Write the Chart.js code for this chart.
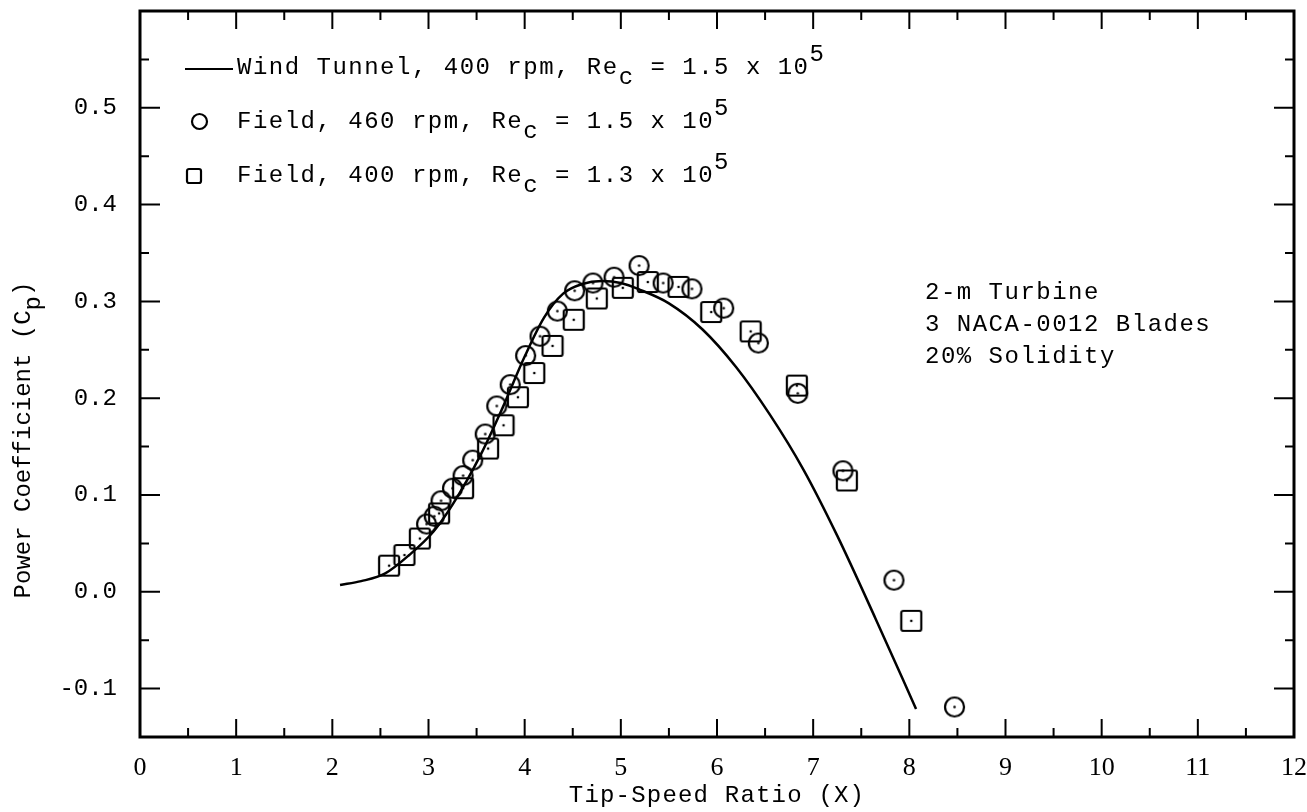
<!DOCTYPE html>
<html>
<head>
<meta charset="utf-8">
<script src="https://cdn.jsdelivr.net/npm/chart.js@4/dist/chart.umd.min.js"></script>
<style>
body { margin: 0; background: #fff; }
#wrap { width: 1307px; height: 812px; }
</style>
</head>
<body>
<div id="wrap"><canvas id="myChart"></canvas></div>
<script>
// wind tunnel curve, 400 rpm
const tunnelX = [2.08, 2.3, 2.55, 2.8, 3.05, 3.25, 3.55, 3.77, 4.0, 4.2, 4.4, 4.6, 4.8, 5.0, 5.2, 5.5, 5.85, 6.2, 6.55, 6.9, 7.25, 7.65, 8.07];
const tunnelCp = [0.007, 0.011, 0.019, 0.038, 0.062, 0.09, 0.143, 0.19, 0.243, 0.283, 0.308, 0.318, 0.321, 0.319, 0.312, 0.298, 0.271, 0.232, 0.183, 0.126, 0.058, -0.028, -0.121];

// field test, 460 rpm (circles)
const field460X = [2.98, 3.06, 3.13, 3.25, 3.36, 3.46, 3.59, 3.71, 3.85, 4.01, 4.16, 4.34, 4.52, 4.71, 4.93, 5.19, 5.44, 5.74, 6.07, 6.43, 6.84, 7.31, 7.84, 8.47];
const field460Cp = [0.070, 0.078, 0.094, 0.107, 0.120, 0.136, 0.163, 0.192, 0.214, 0.244, 0.264, 0.290, 0.311, 0.319, 0.325, 0.337, 0.319, 0.313, 0.293, 0.257, 0.205, 0.125, 0.012, -0.119];

// field test, 400 rpm (squares)
const field400X = [2.59, 2.75, 2.91, 3.11, 3.36, 3.62, 3.78, 3.93, 4.10, 4.29, 4.51, 4.75, 5.02, 5.28, 5.60, 5.94, 6.35, 6.83, 7.35, 8.02];
const field400Cp = [0.027, 0.038, 0.055, 0.081, 0.107, 0.148, 0.172, 0.201, 0.226, 0.254, 0.281, 0.303, 0.314, 0.320, 0.315, 0.289, 0.269, 0.213, 0.115, -0.030];

const xTickValues = [0, 1, 2, 3, 4, 5, 6, 7, 8, 9, 10, 11, 12];
const xTickLabels = ['0', '1', '2', '3', '4', '5', '6', '7', '8', '9', '10', '11', '12'];
const yTickValues = [-0.1, 0.0, 0.1, 0.2, 0.3, 0.4, 0.5];
const yTickLabels = ['-0.1', '0.0', '0.1', '0.2', '0.3', '0.4', '0.5'];

const legendRows = [
    [['Wind Tunnel, 400 rpm, Re'], ['c', 'sub'], [' = 1.5 x 10'], ['5', 'sup']],
    [['Field, 460 rpm, Re'], ['c', 'sub'], [' = 1.5 x 10'], ['5', 'sup']],
    [['Field, 400 rpm, Re'], ['c', 'sub'], [' = 1.3 x 10'], ['5', 'sup']]
];
const noteLines = ['2-m Turbine', '3 NACA-0012 Blades', '20% Solidity'];
const xTitle = [['Tip-Speed Ratio (X)']];
const yTitle = [['Power Coefficient (C'], ['p', 'sub'], [')']];

const MONO = '"Liberation Mono", monospace';
const SERIF = '"Liberation Serif", serif';

function toPoints(xs, ys) {
    return xs.map((x, i) => ({ x: x, y: ys[i] }));
}

function markImg(kind, size, dot) {
    const c = document.createElement('canvas');
    c.width = c.height = size;
    const g = c.getContext('2d');
    const m = size / 2;
    g.strokeStyle = '#000';
    g.lineWidth = 2.2;
    g.beginPath();
    if (kind === 'circle') g.arc(m, m, m - 2, 0, Math.PI * 2);
    else g.roundRect(2, 2, size - 4, size - 4, 2);
    g.stroke();
    if (dot) {
        g.fillStyle = '#000';
        g.beginPath();
        g.arc(m, m, 1.3, 0, Math.PI * 2);
        g.fill();
    }
    return c;
}

function rich(ctx, x, y, parts) {
    for (const p of parts) {
        const dy = p[1] === 'sub' ? 10 : p[1] === 'sup' ? -13 : 0;
        ctx.fillText(p[0], x, y + dy);
        x += ctx.measureText(p[0]).width;
    }
}
function richWidth(ctx, parts) {
    return parts.reduce((w, p) => w + ctx.measureText(p[0]).width, 0);
}

const paper = {
    id: 'paper',
    afterDraw(chart) {
        const ctx = chart.ctx, a = chart.chartArea;
        const xs = chart.scales.x, ys = chart.scales.y;
        ctx.save();
        ctx.strokeStyle = '#000';
        ctx.fillStyle = '#000';
        ctx.lineWidth = 2;
        ctx.beginPath();
        for (let i = 0; i <= 24; i++) {
            const px = xs.getPixelForValue(i / 2), len = i % 2 ? 9 : 18;
            ctx.moveTo(px, a.bottom); ctx.lineTo(px, a.bottom - len);
            ctx.moveTo(px, a.top); ctx.lineTo(px, a.top + len);
        }
        for (let i = -3; i <= 12; i++) {
            const py = ys.getPixelForValue(i * 0.05), len = i % 2 ? 9 : 20;
            ctx.moveTo(a.left, py); ctx.lineTo(a.left + len, py);
            ctx.moveTo(a.right, py); ctx.lineTo(a.right - len, py);
        }
        ctx.stroke();
        ctx.lineWidth = 3;
        ctx.strokeRect(a.left, a.top, a.right - a.left, a.bottom - a.top);

        // legend
        ctx.font = '24px ' + MONO;
        ctx.letterSpacing = '1.5px';
        ctx.textBaseline = 'middle';
        ctx.textAlign = 'left';
        const rowY = [68, 122, 176];
        ctx.lineWidth = 2;
        ctx.beginPath();
        ctx.moveTo(185, rowY[0] + 1); ctx.lineTo(233, rowY[0] + 1);
        ctx.stroke();
        ctx.drawImage(markImg('circle', 19, false), 190, rowY[1] - 10);
        ctx.drawImage(markImg('square', 18, false), 185, rowY[2] - 9);
        legendRows.forEach((r, i) => rich(ctx, 237, rowY[i], r));

        noteLines.forEach((t, i) => ctx.fillText(t, 925, 293 + i * 32));

        // axis titles
        ctx.letterSpacing = '1.2px';
        const tw = richWidth(ctx, xTitle);
        rich(ctx, (a.left + a.right) / 2 - tw / 2, 796, xTitle);
        ctx.translate(24, 440);
        ctx.rotate(-Math.PI / 2);
        ctx.letterSpacing = '0px';
        const yw = richWidth(ctx, yTitle);
        rich(ctx, -yw / 2, 0, yTitle);
        ctx.restore();
    }
};

window.onload = function () {
    let myChart = document.getElementById('myChart').getContext('2d');
    new Chart(myChart, {
        type: 'line',
        data: {
            datasets: [
                { label: 'Wind Tunnel', data: toPoints(tunnelX, tunnelCp), borderColor: '#000', borderWidth: 2.5, pointRadius: 0, cubicInterpolationMode: 'monotone', fill: false },
                { label: 'Field 460', data: toPoints(field460X, field460Cp), showLine: false, pointStyle: markImg('circle', 23, true), pointRadius: 10 },
                { label: 'Field 400', data: toPoints(field400X, field400Cp), showLine: false, pointStyle: markImg('square', 24, true), pointRadius: 10 }
            ]
        },
        options: {
            responsive: true, maintainAspectRatio: false, animation: false,
            layout: { padding: { top: 11, right: 13, left: 0, bottom: 0 } },
            plugins: { legend: { display: false }, tooltip: { enabled: false } },
            scales: {
                x: {
                    type: 'linear', min: 0, max: 12,
                    grid: { display: false }, border: { display: false },
                    ticks: {
                        stepSize: 1, autoSkip: false, maxRotation: 0, padding: 8, color: '#000',
                        font: { family: SERIF, size: 26 },
                        callback: v => { const k = xTickValues.findIndex(t => Math.abs(t - v) < 1e-6); return k < 0 ? '' : xTickLabels[k]; }
                    },
                    afterFit: s => { s.height = 75; s.paddingLeft = 0; s.paddingRight = 0; }
                },
                y: {
                    type: 'linear', min: -0.15, max: 0.6,
                    grid: { display: false }, border: { display: false },
                    ticks: {
                        stepSize: 0.05, autoSkip: false, padding: 15, color: '#000',
                        font: { family: MONO, size: 24 },
                        callback: v => { const k = yTickValues.findIndex(t => Math.abs(t - v) < 1e-6); return k < 0 ? '' : yTickLabels[k]; }
                    },
                    afterFit: s => { s.width = 140; s.paddingTop = 0; s.paddingBottom = 0; }
                }
            }
        },
        plugins: [paper]
    });
};
</script>
</body>
</html>
